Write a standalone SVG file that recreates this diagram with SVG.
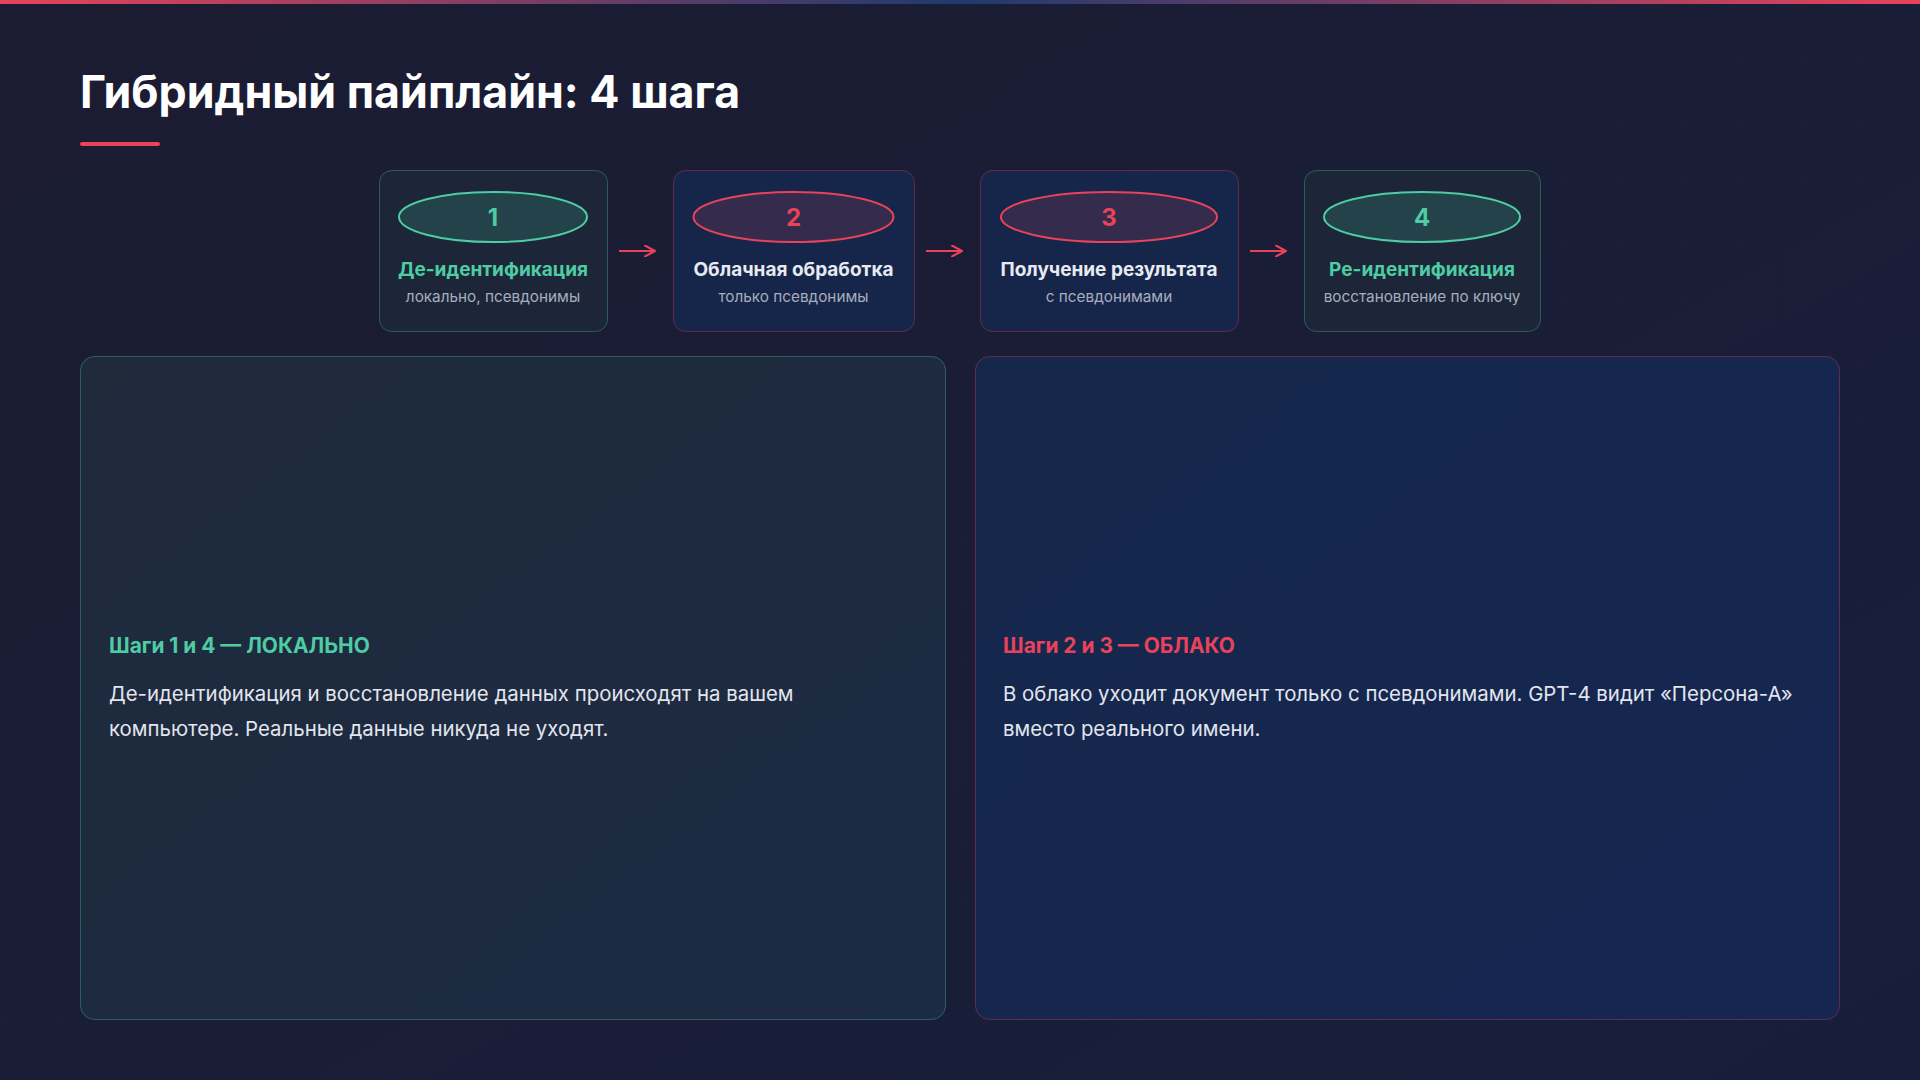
<svg xmlns="http://www.w3.org/2000/svg" width="1920" height="1080" viewBox="0 0 1920 1080">
  <defs>
    <pattern id="dots" x="0" y="0" width="60" height="60" patternUnits="userSpaceOnUse">
      <rect x="-1" y="-1" width="2" height="2" fill="#262a45"/>
    </pattern>
    <linearGradient id="topbar" x1="0" y1="0" x2="1" y2="0">
      <stop offset="0" stop-color="#e8435a"/>
      <stop offset="0.5" stop-color="#1e3a6e"/>
      <stop offset="1" stop-color="#e8435a"/>
    </linearGradient>
    <linearGradient id="bg" x1="0" y1="0" x2="1" y2="1">
      <stop offset="0" stop-color="#1b1c32"/>
      <stop offset="1" stop-color="#181e3a"/>
    </linearGradient>
    <linearGradient id="localFill" x1="0" y1="0" x2="1" y2="1">
      <stop offset="0" stop-color="#1f2a3b"/>
      <stop offset="1" stop-color="#1c2b44"/>
    </linearGradient>
    <linearGradient id="cloudFill" x1="0" y1="0" x2="1" y2="1">
      <stop offset="0" stop-color="#15284b"/>
      <stop offset="1" stop-color="#152651"/>
    </linearGradient>
    <marker id="arrow" viewBox="0 0 12 12" refX="11" refY="6" markerWidth="12" markerHeight="12" markerUnits="userSpaceOnUse" orient="auto">
      <path d="M1,0.5 L11,6 L1,11.5" fill="none" stroke="#e8435a" stroke-width="2" stroke-linecap="round" stroke-linejoin="round"/>
    </marker>
    <style>
      text { font-family: Inter, "Noto Sans", "Liberation Sans", sans-serif; }
      .title { font-size: 44.7px; font-weight: 700; fill: #ffffff; }
      .node-local { fill: #1c2638; stroke: #4ecca3; stroke-opacity: 0.35; stroke-width: 1; }
      .node-cloud { fill: #16264a; stroke: #e8435a; stroke-opacity: 0.35; stroke-width: 1; }
      .ell-local { fill: #24424a; stroke: #4ecca3; stroke-width: 2; }
      .ell-cloud { fill: #352b4c; stroke: #e8435a; stroke-width: 2; }
      .num { font-size: 24px; font-weight: 700; text-anchor: middle; }
      .ntitle { font-size: 19px; font-weight: 700; text-anchor: middle; }
      .nsub { font-size: 15.3px; font-weight: 400; text-anchor: middle; fill: #a7adbd; }
      .green { fill: #4ecca3; }
      .red { fill: #e8435a; }
      .white { fill: #e8eaf2; }
      .panel-local { fill: url(#localFill); stroke: #4ecca3; stroke-opacity: 0.35; stroke-width: 1; }
      .panel-cloud { fill: url(#cloudFill); stroke: #e8435a; stroke-opacity: 0.35; stroke-width: 1; }
      .phead { font-size: 20.9px; font-weight: 700; }
      .pbody { font-size: 20.4px; font-weight: 400; fill: #e2e5ee; }
      .conn { stroke: #e8435a; stroke-width: 2; fill: none; marker-end: url(#arrow); }
    </style>
  </defs>

  <rect width="1920" height="1080" fill="url(#bg)"/>
  <rect width="1920" height="1080" fill="url(#dots)"/>
  <rect x="0" y="0" width="1920" height="4" fill="url(#topbar)"/>

  <text class="title" x="80" y="108">Гибридный пайплайн: 4 шага</text>
  <rect x="80" y="142" width="80" height="4" rx="2" fill="#e8435a"/>

  <g id="node-1">
    <rect class="node-local" x="379.5" y="170.5" width="228" height="161" rx="12"/>
    <ellipse class="ell-local" cx="493" cy="217" rx="94" ry="25"/>
    <text class="num green" x="493" y="226">1</text>
    <text class="ntitle green" x="493" y="276">Де-идентификация</text>
    <text class="nsub" x="493" y="302">локально, псевдонимы</text>
  </g>

  <g id="node-2">
    <rect class="node-cloud" x="673.5" y="170.5" width="241" height="161" rx="12"/>
    <ellipse class="ell-cloud" cx="793.5" cy="217" rx="100" ry="25"/>
    <text class="num red" x="793.5" y="226">2</text>
    <text class="ntitle white" x="793.5" y="276">Облачная обработка</text>
    <text class="nsub" x="793.5" y="302">только псевдонимы</text>
  </g>

  <g id="node-3">
    <rect class="node-cloud" x="980.5" y="170.5" width="258" height="161" rx="12"/>
    <ellipse class="ell-cloud" cx="1109" cy="217" rx="108" ry="25"/>
    <text class="num red" x="1109" y="226">3</text>
    <text class="ntitle white" x="1109" y="276">Получение результата</text>
    <text class="nsub" x="1109" y="302">с псевдонимами</text>
  </g>

  <g id="node-4">
    <rect class="node-local" x="1304.5" y="170.5" width="236" height="161" rx="12"/>
    <ellipse class="ell-local" cx="1422" cy="217" rx="98" ry="25"/>
    <text class="num green" x="1422" y="226">4</text>
    <text class="ntitle green" x="1422" y="276">Ре-идентификация</text>
    <text class="nsub" x="1422" y="302">восстановление по ключу</text>
  </g>

  <g id="connectors">
    <line class="conn" x1="619" y1="251" x2="655" y2="251"/>
    <line class="conn" x1="926" y1="251" x2="962" y2="251"/>
    <line class="conn" x1="1250" y1="251" x2="1286" y2="251"/>
  </g>

  <g id="panel-local">
    <rect class="panel-local" x="80.5" y="356.5" width="865" height="663" rx="14"/>
    <text class="phead green" x="109" y="653">Шаги 1 и 4 — ЛОКАЛЬНО</text>
    <text class="pbody" x="109" y="701">Де-идентификация и восстановление данных происходят на вашем</text>
    <text class="pbody" x="109" y="736">компьютере. Реальные данные никуда не уходят.</text>
  </g>

  <g id="panel-cloud">
    <rect class="panel-cloud" x="975.5" y="356.5" width="864" height="663" rx="14"/>
    <text class="phead red" x="1003" y="653">Шаги 2 и 3 — ОБЛАКО</text>
    <text class="pbody" x="1003" y="701">В облако уходит документ только с псевдонимами. GPT-4 видит «Персона-А»</text>
    <text class="pbody" x="1003" y="736">вместо реального имени.</text>
  </g>
</svg>
